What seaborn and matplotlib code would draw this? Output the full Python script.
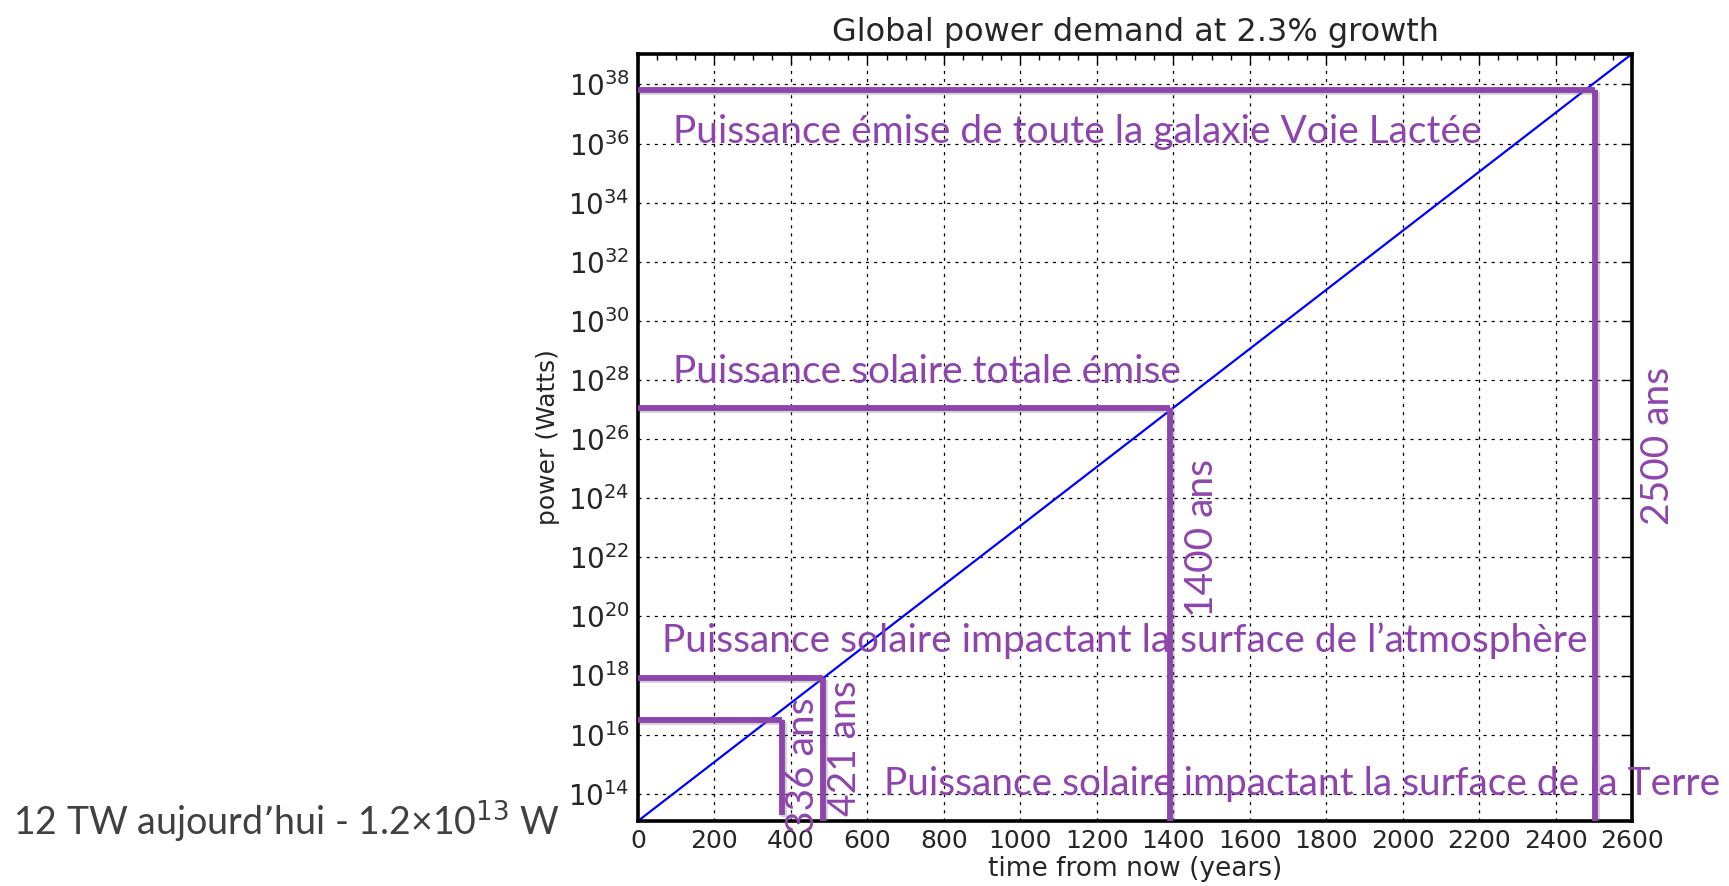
import numpy as np
import pandas as pd
import seaborn as sns
import matplotlib.pyplot as plt
import matplotlib.patheffects as pe
from matplotlib.ticker import FixedLocator, MultipleLocator, FuncFormatter

# blue growth line (straight on a log axis between its two ends)
years = [0, 2600]
power = [1.2e13, 1.1e39]

# purple markers: where each limit is reached
marker_years = [376, 484, 1391, 2502]
marker_power = [3.2e16, 8.0e17, 1.1e27, 6.5e37]
marker_bottom = [1.9e13, 1.2e13, 1.2e13, 1.2e13]
marker_labels = ["336 ans", "421 ans", "1400 ans", "2500 ans"]

level_labels = [
    "Puissance émise de toute la galaxie Voie Lactée",
    "Puissance solaire totale émise",
    "Puissance solaire impactant la surface de l\u2019atmosphère",
    "Puissance solaire impactant la surface de la Terre",
]

x_ticks = list(range(0, 2601, 200))
y_tick_exponents = list(range(14, 39, 2))

PURPLE = "#8e44ad"

sns.set_style("white")
plt.rcParams["font.family"] = ["DejaVu Sans"]

fig = plt.figure(figsize=(17.29, 8.86), dpi=100)
ax = fig.add_axes([0.369, 0.0734, 0.575, 0.866])

df = pd.DataFrame({"years": years, "power": power})
sns.lineplot(data=df, x="years", y="power", color="#0000ff", lw=1.6, ax=ax)
ax.set_yscale("log")
ax.set_xlim(years[0], years[-1])
ax.set_ylim(power[0], power[-1])

# purple level / time lines, with a soft shadow like the slide
shadow = [pe.SimpleLineShadow(offset=(1.5, -1.5), shadow_color="gray", alpha=0.35), pe.Normal()]
ax.hlines(marker_power, 0, marker_years, color=PURPLE, lw=4.2, zorder=4, path_effects=shadow)
ax.vlines(marker_years, marker_bottom, marker_power, color=PURPLE, lw=4.2, zorder=4,
          path_effects=shadow)

# axes styling (old matplotlib look)
ax.xaxis.set_major_locator(FixedLocator(x_ticks))
ax.xaxis.set_minor_locator(MultipleLocator(50))
ax.yaxis.set_major_locator(FixedLocator([10.0 ** e for e in y_tick_exponents]))
ax.yaxis.set_minor_locator(FixedLocator([]))
ax.yaxis.set_major_formatter(FuncFormatter(lambda v, p: r"$10^{%d}$" % round(np.log10(v))))
ax.tick_params(which="both", direction="in", top=True, right=True, color="black")
ax.tick_params(which="major", length=7, width=1, labelsize=20, pad=6)
ax.tick_params(which="minor", length=4, width=1)
ax.tick_params(axis="x", labelsize=18)
ax.grid(True, which="major", color="black", linestyle=(0, (2.5, 4)), lw=0.9)
for s in ax.spines.values():
    s.set_linewidth(2.6)
    s.set_color("black")

ax.set_title("Global power demand at 2.3% growth", fontsize=23, pad=9)
ax.set_xlabel("time from now (years)", fontsize=19, labelpad=2)
ax.set_ylabel("power (Watts)", fontsize=18, labelpad=6)

# annotation texts
txt = dict(color=PURPLE, family="Lato", fontsize=28, va="center", ha="left")
fig.text(0.389, 0.851, level_labels[0], **txt)
fig.text(0.389, 0.580, level_labels[1], **txt)
fig.text(0.383, 0.277, level_labels[2], **txt)
fig.text(0.511, 0.115, level_labels[3], **txt)

rot_pos = [(0.4644, 0.1366), (0.4887, 0.1558), (0.6952, 0.3928), (0.9589, 0.4966)]
for (x, y), lab in zip(rot_pos, marker_labels):
    fig.text(x, y, lab, color=PURPLE, family="Lato", fontsize=28,
             rotation=90, ha="center", va="center")

fig.text(0.0075, 0.072, "12 TW aujourd\u2019hui - 1.2\u00d710$^{13}$ W",
         color="#404040", family="Lato", fontsize=27, va="center", ha="left")

fig.savefig("out.png", dpi=100)
